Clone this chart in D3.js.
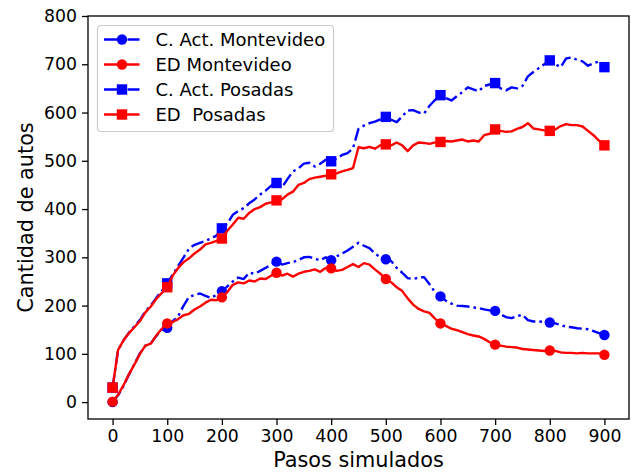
<!DOCTYPE html>
<html><head><meta charset="utf-8">
<script src="https://cdn.jsdelivr.net/npm/d3@7"></script>
<style>
html,body{margin:0;padding:0;background:#fff;}
text{font-family:"DejaVu Sans",sans-serif;}
</style></head>
<body><svg id="c" width="631" height="472"></svg>
<script>
// steps (every 10 simulated steps)
const steps = d3.range(0, 901, 10);
const markerSteps = [0,100,200,300,400,500,600,700,800,900];
const xTicks = [0,100,200,300,400,500,600,700,800,900];
const yTicks = [0,100,200,300,400,500,600,700,800];

const actMontevideo = [0,14,33,57,79,101,117,122,137,150,
 154,168,178,200,218,222,225,220,216,222,
 230,240,250,258,255,268,266,272,278,285,
 291,285,288,290,294,300,301,297,294,300,
 294,302,308,314,322,330,324,319,308,300,
 296,292,278,268,257,255,258,259,244,228,
 219,210,204,200,199,198,196,195,192,190,
 189,182,176,174,178,181,170,167,167,166,
 165,163,160,156,155,153,152,151,147,143,139];

const edMontevideo = [1,15,35,58,78,100,117,121,138,152,
 163,166,172,180,183,192,198,206,212,211,
 217,228,243,248,246,252,250,256,255,262,
 268,262,266,260,266,270,272,275,270,278,
 277,272,274,280,286,280,288,285,275,266,
 255,248,238,230,215,202,193,188,185,173,
 163,158,152,149,145,141,138,136,131,124,
 119,117,115,114,113,110,109,108,107,106,
 107,106,103,102,102,101,102,101,101,101,98];

const actPosadas = [30,108,128,144,157,170,188,200,216,230,
 246,264,282,300,318,326,330,334,339,345,
 360,370,388,396,402,412,420,430,438,448,
 454,445,462,478,484,494,496,488,494,502,
 499,505,512,516,526,566,573,578,581,586,
 591,585,580,592,604,605,600,598,614,626,
 636,630,625,634,642,652,648,644,655,658,
 661,650,646,652,650,655,675,684,692,700,
 708,700,694,712,714,709,706,697,702,706,694];

const edPosadas = [30,108,128,143,155,168,186,198,214,226,
 238,262,278,290,298,308,316,327,330,334,
 339,355,368,382,380,392,400,404,411,414,
 418,420,430,436,450,454,462,465,467,469,
 472,474,478,481,485,528,526,529,525,532,
 534,532,538,532,520,532,538,537,535,538,
 539,541,540,542,544,540,542,540,553,556,
 565,562,560,561,566,570,578,567,565,563,
 562,565,572,576,574,574,571,562,553,542,532];

const seriesNames = ["C. Act. Montevideo","ED Montevideo","C. Act. Posadas","ED  Posadas"];

const dashDot = "13,4,2.6,4";
const series = [
 {name:seriesNames[0], values:actMontevideo, color:"#0000ff", dash:dashDot, marker:"circle"},
 {name:seriesNames[1], values:edMontevideo, color:"#ff0000", dash:null, marker:"circle"},
 {name:seriesNames[2], values:actPosadas, color:"#0000ff", dash:dashDot, marker:"square"},
 {name:seriesNames[3], values:edPosadas, color:"#ff0000", dash:null, marker:"square"}
];

const svg = d3.select("#c");
const L=88, R=629, T=16, B=419;
const x = d3.scaleLinear().domain([-45,945]).range([L,R]);
const y = d3.scaleLinear().domain([-35,800]).range([B,T]);

const lw = 2.4, ms = 10.4;
const line = d3.line().x((d,i)=>x(steps[i])).y(d=>y(d));

function drawMarker(g, type, cx, cy, color){
  if(type==="circle"){
    g.append("circle").attr("cx",cx).attr("cy",cy).attr("r",ms/2).attr("fill",color);
  } else {
    g.append("rect").attr("x",cx-ms/2).attr("y",cy-ms/2).attr("width",ms).attr("height",ms).attr("fill",color);
  }
}

const plot = svg.append("g");
plot.append("defs").append("clipPath").attr("id","clip").append("rect")
  .attr("x",L).attr("y",T).attr("width",R-L).attr("height",B-T);
const pg = plot.append("g").attr("clip-path","url(#clip)");

series.forEach(s=>{
  const g = pg.append("g");
  g.append("path").attr("d", line(s.values)).attr("fill","none")
    .attr("stroke", s.color).attr("stroke-width", lw)
    .attr("stroke-linejoin","round").attr("stroke-linecap", s.dash? "butt":"square")
    .attr("stroke-dasharray", s.dash);
  markerSteps.forEach(st=>{
    const i = steps.indexOf(st);
    drawMarker(g, s.marker, x(st), y(s.values[i]), s.color);
  });
});

// axes
const xAxis = d3.axisBottom(x).tickValues(xTicks).tickSize(6).tickPadding(5).tickSizeOuter(0);
const yAxis = d3.axisLeft(y).tickValues(yTicks).tickSize(6).tickPadding(5).tickSizeOuter(0);
const gx = svg.append("g").attr("transform",`translate(0,${B})`).call(xAxis);
const gy = svg.append("g").attr("transform",`translate(${L},0)`).call(yAxis);
[gx,gy].forEach(g=>{
  g.select(".domain").remove();
  g.selectAll(".tick line").attr("stroke","#000").attr("stroke-width",1.3);
  g.selectAll(".tick text").attr("fill","#000").style("font-size","17.3px").style("font-family","DejaVu Sans");
});

// frame
svg.append("rect").attr("x",L).attr("y",T).attr("width",R-L).attr("height",B-T)
  .attr("fill","none").attr("stroke","#000").attr("stroke-width",1.3);

// labels
svg.append("text").attr("x",(L+R)/2).attr("y",467).attr("text-anchor","middle")
  .style("font-size","20.8px").text("Pasos simulados");
svg.append("text").attr("transform",`translate(33,${(T+B)/2}) rotate(-90)`).attr("text-anchor","middle")
  .style("font-size","20.8px").text("Cantidad de autos");

// legend
const lg = svg.append("g");
lg.append("rect").attr("x",97.5).attr("y",25.5).attr("width",236).attr("height",106).attr("rx",3.5)
  .attr("fill","#fff").attr("fill-opacity",0.8).attr("stroke","#cccccc").attr("stroke-width",1.2);
const rowY = [39.5, 64.5, 89.5, 114.5];
series.forEach((s,i)=>{
  const yy = rowY[i];
  lg.append("line").attr("x1",104).attr("x2",139.5).attr("y1",yy).attr("y2",yy)
    .attr("stroke",s.color).attr("stroke-width",lw).attr("stroke-dasharray", s.dash);
  drawMarker(lg, s.marker, 122, yy, s.color);
  lg.append("text").attr("x",155.5).attr("y",yy).attr("dy","0.36em")
    .style("font-size","18px").style("white-space","pre").attr("fill","#000").text(s.name);
});
</script></body></html>
